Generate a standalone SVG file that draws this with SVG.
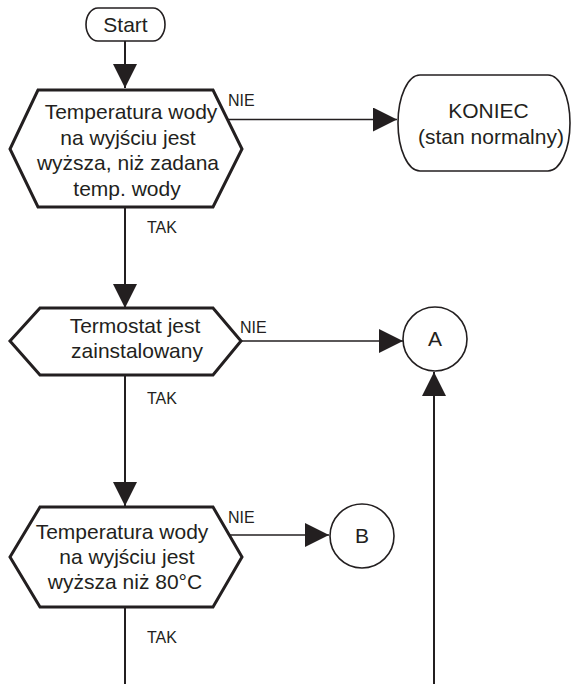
<svg xmlns="http://www.w3.org/2000/svg" width="571" height="684" viewBox="0 0 571 684">
<defs>
<style>
.t{font-family:"Liberation Sans",Arial,sans-serif;fill:#231f20;text-anchor:middle}
.big{font-size:21px}
.lbl{font-family:"Liberation Sans",Arial,sans-serif;fill:#231f20;font-size:16px}
.hex{fill:#fff;stroke:#231f20;stroke-width:3;stroke-linejoin:miter}
.term{fill:#fff;stroke:#231f20;stroke-width:1.6}
.main{fill:none;stroke:#231f20;stroke-width:2}
.side{fill:none;stroke:#231f20;stroke-width:1.3}
</style>
<marker id="ah" markerUnits="userSpaceOnUse" markerWidth="24" markerHeight="24" viewBox="0 0 22 22" refX="22" refY="11" orient="auto">
<path d="M0,0 L22,11 L0,22 Z" fill="#231f20"/>
</marker>
</defs>
<g id="connectors">
<line class="main" x1="125" y1="41" x2="125" y2="88" marker-end="url(#ah)"/>
<line class="side" x1="228" y1="119.5" x2="397" y2="119.5" marker-end="url(#ah)"/>
<line class="main" x1="125" y1="207" x2="125" y2="308" marker-end="url(#ah)"/>
<line class="side" x1="241" y1="341" x2="403" y2="341" marker-end="url(#ah)"/>
<line class="main" x1="434" y1="684" x2="434" y2="372" marker-end="url(#ah)"/>
<line class="main" x1="125" y1="375" x2="125" y2="506" marker-end="url(#ah)"/>
<line class="side" x1="229" y1="535" x2="329" y2="535" marker-end="url(#ah)"/>
<line class="main" x1="125" y1="607" x2="125" y2="684"/>
<text class="lbl" x="228" y="106">NIE</text>
<text class="lbl" x="147" y="233">TAK</text>
<text class="lbl" x="240" y="333">NIE</text>
<text class="lbl" x="147" y="404">TAK</text>
<text class="lbl" x="228" y="523">NIE</text>
<text class="lbl" x="147" y="643">TAK</text>
</g>
<g id="start">
<rect class="term" x="86" y="8" width="79" height="33" rx="12" ry="16.5"/>
<text class="t big" x="125.5" y="32">Start</text>
</g>
<g id="dec1">
<polygon class="hex" points="38,90 213,90 242,149 213,207 38,207 10,149"/>
<text class="t big" x="131" y="119">Temperatura wody</text>
<text class="t big" x="128" y="145">na wyjściu jest</text>
<text class="t big" x="128" y="170">wyższa, niż zadana</text>
<text class="t big" x="127" y="196">temp. wody</text>
</g>
<g id="koniec">
<rect class="term" x="398" y="75" width="172" height="96" rx="22" ry="48"/>
<text class="t big" x="488.5" y="118">KONIEC</text>
<text class="t big" x="491" y="144">(stan normalny)</text>
</g>
<g id="dec2">
<polygon class="hex" points="40,308 213,308 241,341 213,375 40,375 10,341"/>
<text class="t big" x="135" y="333">Termostat jest</text>
<text class="t big" x="137" y="358">zainstalowany</text>
</g>
<g id="connA">
<circle class="term" cx="435" cy="339" r="32"/>
<text class="t big" x="435" y="346">A</text>
</g>
<g id="dec3">
<polygon class="hex" points="40,507 213,507 242,557 213,607 40,607 10,557"/>
<text class="t big" x="122" y="539">Temperatura wody</text>
<text class="t big" x="127" y="564">na wyjściu jest</text>
<text class="t big" x="125" y="589">wyższa niż 80°C</text>
</g>
<g id="connB">
<circle class="term" cx="362" cy="536" r="32"/>
<text class="t big" x="362" y="543">B</text>
</g>
</svg>
